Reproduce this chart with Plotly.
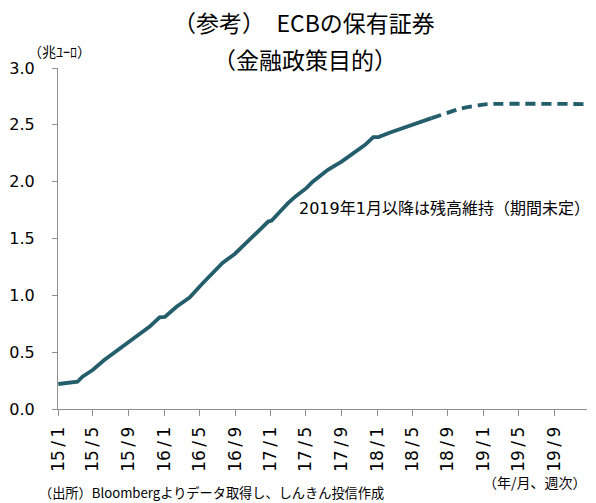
import plotly.graph_objects as go

# ---- data ----
solid_dates = ["2015-01-02", "2015-03-09", "2015-03-26", "2015-04-30", "2015-06-09",
               "2015-07-19", "2015-08-23", "2015-10-02", "2015-11-12", "2015-12-16",
               "2016-01-03", "2016-02-12", "2016-03-28", "2016-05-12", "2016-06-22",
               "2016-07-20", "2016-08-30", "2016-10-09", "2016-11-24", "2016-12-23",
               "2017-01-04", "2017-02-02", "2017-03-01", "2017-03-29", "2017-05-03",
               "2017-05-25", "2017-07-16", "2017-09-01", "2017-10-11", "2017-11-21",
               "2017-12-19", "2018-01-06", "2018-02-15", "2018-03-19", "2018-05-04",
               "2018-07-07"]
solid_values = [0.220, 0.240, 0.284, 0.343, 0.431,
                0.504, 0.570, 0.651, 0.725, 0.807,
                0.810, 0.900, 0.980, 1.106, 1.217,
                1.288, 1.364, 1.459, 1.576, 1.649,
                1.658, 1.737, 1.811, 1.875, 1.943,
                2.000, 2.104, 2.177, 2.251, 2.324,
                2.392, 2.392, 2.432, 2.462, 2.506,
                2.559]

proj_dates = ["2018-07-07", "2018-08-28", "2018-10-13", "2018-12-10", "2019-01-15", "2019-12-23"]
proj_values = [2.559, 2.603, 2.641, 2.670, 2.682, 2.682]

tick_dates = ["2015-01-01", "2015-05-01", "2015-09-01", "2016-01-01", "2016-05-01",
              "2016-09-01", "2017-01-01", "2017-05-01", "2017-09-01", "2018-01-01",
              "2018-05-01", "2018-09-01", "2019-01-01", "2019-05-01", "2019-09-01"]
tick_labels = ["15/1", "15/5", "15/9", "16/1", "16/5", "16/9", "17/1", "17/5",
               "17/9", "18/1", "18/5", "18/9", "19/1", "19/5", "19/9"]

y_ticks = [0.0, 0.5, 1.0, 1.5, 2.0, 2.5, 3.0]

LINE = "#245d6b"
AXIS = "#8f8f8f"
JP = "Noto Sans CJK JP"
LAT = "DejaVu Sans, Noto Sans CJK JP"
THIN = "\u2009"

fig = go.Figure()
fig.add_trace(go.Scatter(x=solid_dates, y=solid_values, mode="lines",
                         line=dict(color=LINE, width=3.8), hoverinfo="skip",
                         showlegend=False))
fig.add_trace(go.Scatter(x=proj_dates, y=proj_values, mode="lines",
                         line=dict(color=LINE, width=3.8, dash="10px,6px",
                                   shape="spline", smoothing=0.8),
                         hoverinfo="skip", showlegend=False))

L, R, T, B = 58, 9, 68, 94
W, H = 596, 503
pw = W - L - R


def px(x):
    return (x - L) / pw


fig.update_layout(
    width=W, height=H,
    margin=dict(l=L, r=R, t=T, b=B),
    paper_bgcolor="white", plot_bgcolor="white",
    font=dict(family=LAT, color="#000000"),
    xaxis=dict(type="date", range=["2015-01-01", "2019-12-23"],
               tickmode="array", tickvals=tick_dates,
               ticktext=[t.replace("/", THIN + "/" + THIN) for t in tick_labels],
               tickangle=-90, ticks="outside", ticklen=6, tickwidth=1,
               tickcolor=AXIS, showline=True, linecolor=AXIS, linewidth=1,
               showgrid=False, zeroline=False, ticklabelstandoff=4,
               tickfont=dict(family="DejaVu Sans", size=17, color="#000000")),
    yaxis=dict(range=[0, 3], tickmode="array", tickvals=y_ticks,
               ticktext=[f"{v:.1f}" for v in y_ticks],
               ticks="outside", ticklen=5, tickwidth=1, tickcolor=AXIS,
               showline=True, linecolor=AXIS, linewidth=1,
               showgrid=False, zeroline=False, ticklabelstandoff=14,
               tickfont=dict(family=LAT, size=16, color="#000000")),
    annotations=[
        dict(text="（参考）　ECBの保有証券", x=px(304), y=22, xref="paper", yref="paper",
             showarrow=False, xanchor="center", yanchor="middle",
             font=dict(family=JP, size=23, color="#000000")),
        dict(text="（金融政策目的）", x=px(305), y=59, xref="paper", yref="paper",
             showarrow=False, xanchor="center", yanchor="middle",
             font=dict(family=JP, size=23, color="#000000")),
        dict(text="（兆ﾕｰﾛ）", x=px(26), y=51, xref="paper", yref="paper",
             showarrow=False, xanchor="left", yanchor="middle",
             font=dict(family=JP, size=14, color="#000000")),
        dict(text="2019年1月以降は残高維持（期間未定）", x=px(297), y=208, xref="paper",
             yref="paper", showarrow=False, xanchor="left", yanchor="middle",
             font=dict(family=LAT, size=16, color="#000000")),
        dict(text="（年/月、週次）", x=px(589), y=481.5, xref="paper", yref="paper",
             showarrow=False, xanchor="right", yanchor="middle",
             font=dict(family=JP, size=14, color="#000000")),
        dict(text="（出所）Bloombergよりデータ取得し、しんきん投信作成", x=px(37), y=492.5,
             xref="paper", yref="paper", showarrow=False, xanchor="left",
             yanchor="middle", font=dict(family=JP, size=13.2, color="#000000")),
    ],
)

# convert pixel y positions of annotations to paper coordinates
ph = H - T - B
for a in fig.layout.annotations:
    a.y = (H - B - a.y) / ph

fig.write_html("out.html")
